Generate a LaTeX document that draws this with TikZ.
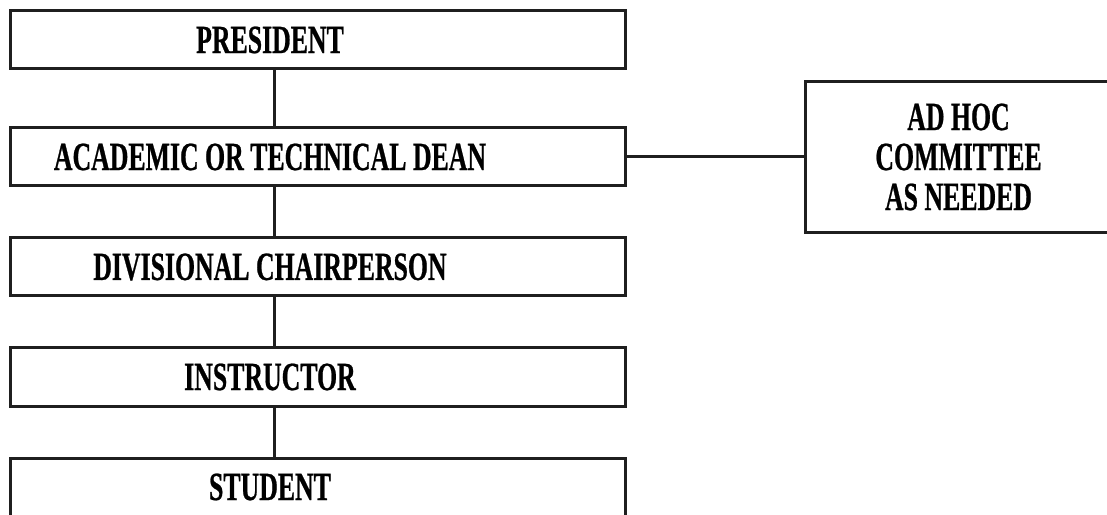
\documentclass[tikz,border=0pt]{standalone}
\usepackage{fontspec}
\newfontfamily\chartfont{Liberation Serif}[FakeStretch=0.645, BoldFeatures={FakeBold=0.6}]
\usetikzlibrary{positioning}
\newcommand{\lefttext}[1]{\makebox[520pt][c]{#1}\hspace*{95pt}}

\begin{document}
\begin{tikzpicture}[
    x=1pt, y=1pt,
    post/.style={rectangle, draw=black!88, line width=3pt, minimum width=615pt, minimum height=58pt, inner xsep=0pt, inner ysep=0pt, font=\chartfont\bfseries\fontsize{40}{40}\selectfont},
    side/.style={rectangle, draw=black!88, line width=3pt, minimum width=307pt, minimum height=151pt, align=center, font=\chartfont\bfseries\fontsize{40}{40}\selectfont},
    link/.style={draw=black!88, line width=3pt},
    node distance=49pt
]
    \useasboundingbox (0,0) rectangle (1107,514);
    \clip (0,0) rectangle (1107,514);

    % Chain of command
    \node[post] (pres) at (317.5,474) {\lefttext{PRESIDENT}};
    \node[post, below=56pt of pres] (dean) {\lefttext{ACADEMIC OR TECHNICAL DEAN}};
    \node[post, below=of dean] (chair) {\lefttext{DIVISIONAL CHAIRPERSON}};
    \node[post, below=of chair] (instr) {\lefttext{INSTRUCTOR}};
    \node[post, below=of instr] (stud) {\lefttext{STUDENT}};

    % Committee on the side
    \node[side, right=177pt of dean] (adhoc) {AD HOC\\COMMITTEE\\AS NEEDED};

    % Connectors
    \draw[link] ([xshift=-43.5pt]pres.south) -- ([xshift=-43.5pt]dean.north);
    \draw[link] ([xshift=-43.5pt]dean.south) -- ([xshift=-43.5pt]chair.north);
    \draw[link] ([xshift=-43.5pt]chair.south) -- ([xshift=-43.5pt]instr.north);
    \draw[link] ([xshift=-43.5pt]instr.south) -- ([xshift=-43.5pt]stud.north);
    \draw[link] (dean.east) -- (adhoc.west);
\end{tikzpicture}
\end{document}
